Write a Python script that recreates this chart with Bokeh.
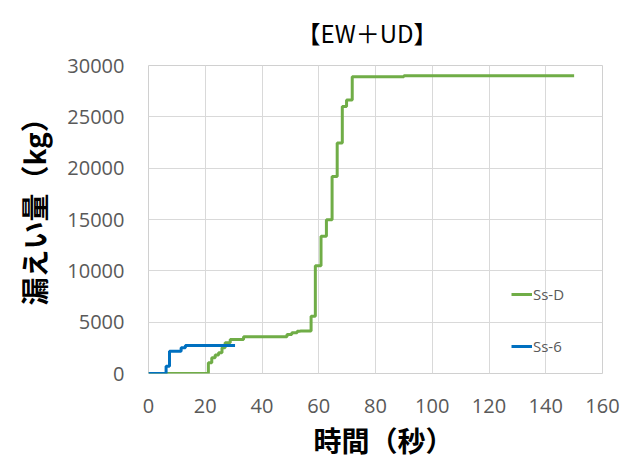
from bokeh.plotting import figure
from bokeh.models import Range1d, FixedTicker, Legend, LegendItem, BasicTickFormatter, Title
from bokeh.embed import file_html
from bokeh.resources import INLINE

# ---- data ----
ssd_time = [0, 21.1, 22.3, 23.5, 24.7, 25.9, 27.0, 28.8, 33.5, 48.8, 50.5, 52.4, 53.5,
            57.3, 58.8, 60.8, 62.7, 64.7, 66.5, 68.3, 69.8, 71.8, 90, 150]
ssd_leak = [0, 1040, 1530, 1800, 2010, 2500, 2990, 3300, 3570, 3790, 3960, 4120, 4150,
            5580, 10500, 13360, 14980, 19200, 22440, 26000, 26650, 28900, 29000, 29000]
ss6_time = [0, 6.2, 7.4, 11.5, 13.0, 30.5]
ss6_leak = [0, 700, 2170, 2500, 2720, 2720]

x_ticks = [0, 20, 40, 60, 80, 100, 120, 140, 160]
y_ticks = [0, 5000, 10000, 15000, 20000, 25000, 30000]

title_text = "【EW＋UD】"
x_label = "時間（秒）"
y_label = "漏えい量（kg）"

GREEN = "#70ad47"
BLUE = "#0070c0"
TICK_COLOR = "#595959"
GRID = "#d9d9d9"

p = figure(width=621, height=465, output_backend="svg", toolbar_location=None,
           x_range=Range1d(0, 160), y_range=Range1d(0, 30000),
           min_border_left=148, min_border_right=19, min_border_top=65, min_border_bottom=91)
p.background_fill_color = "white"
p.border_fill_color = "white"
p.outline_line_color = "#d0d0d0"
p.outline_line_width = 1

p.xaxis.ticker = FixedTicker(ticks=x_ticks)
p.yaxis.ticker = FixedTicker(ticks=y_ticks)
p.yaxis.formatter = BasicTickFormatter(use_scientific=False)
for ax in (p.xaxis, p.yaxis):
    ax.axis_line_color = None
    ax.major_tick_line_color = None
    ax.minor_tick_line_color = None
    ax.major_label_text_font = "Open Sans"
    ax.major_label_text_font_size = "20px"
    ax.major_label_text_color = TICK_COLOR
p.xaxis.major_label_standoff = 19
p.yaxis.major_label_standoff = 18

p.xgrid.grid_line_color = GRID
p.ygrid.grid_line_color = GRID

r_d = p.step(ssd_time, ssd_leak, mode="after", line_color=GREEN, line_width=3)
r_6 = p.step(ss6_time, ss6_leak, mode="after", line_color=BLUE, line_width=3)

legend = Legend(items=[LegendItem(label="Ss-D", renderers=[r_d]),
                       LegendItem(label="Ss-6", renderers=[r_6])],
                location=(363, 17), orientation="vertical",
                glyph_width=21, glyph_height=20, label_standoff=1, spacing=32,
                padding=0, margin=0, border_line_color=None, background_fill_alpha=0,
                label_text_font="Open Sans", label_text_font_size="15px",
                label_text_color=TICK_COLOR)
p.add_layout(legend, "center")

p.title = Title(text=title_text, align="left", offset=148, standoff=27,
                vertical_align="top",
                text_font="Noto Sans CJK JP", text_font_size="24px",
                text_font_style="normal", text_color="black")

ytitle = Title(text=y_label, align="left", offset=68, standoff=22,
               text_font="Noto Sans CJK JP", text_font_size="28px",
               text_font_style="bold", text_color="black")
p.add_layout(ytitle, "left")

xtitle = Title(text=x_label, align="left", offset=165, standoff=8,
               vertical_align="top",
               text_font="Noto Sans CJK JP", text_font_size="28px",
               text_font_style="bold", text_color="black")
p.add_layout(xtitle, "below")

open("out.html", "w").write(file_html(p, INLINE))
